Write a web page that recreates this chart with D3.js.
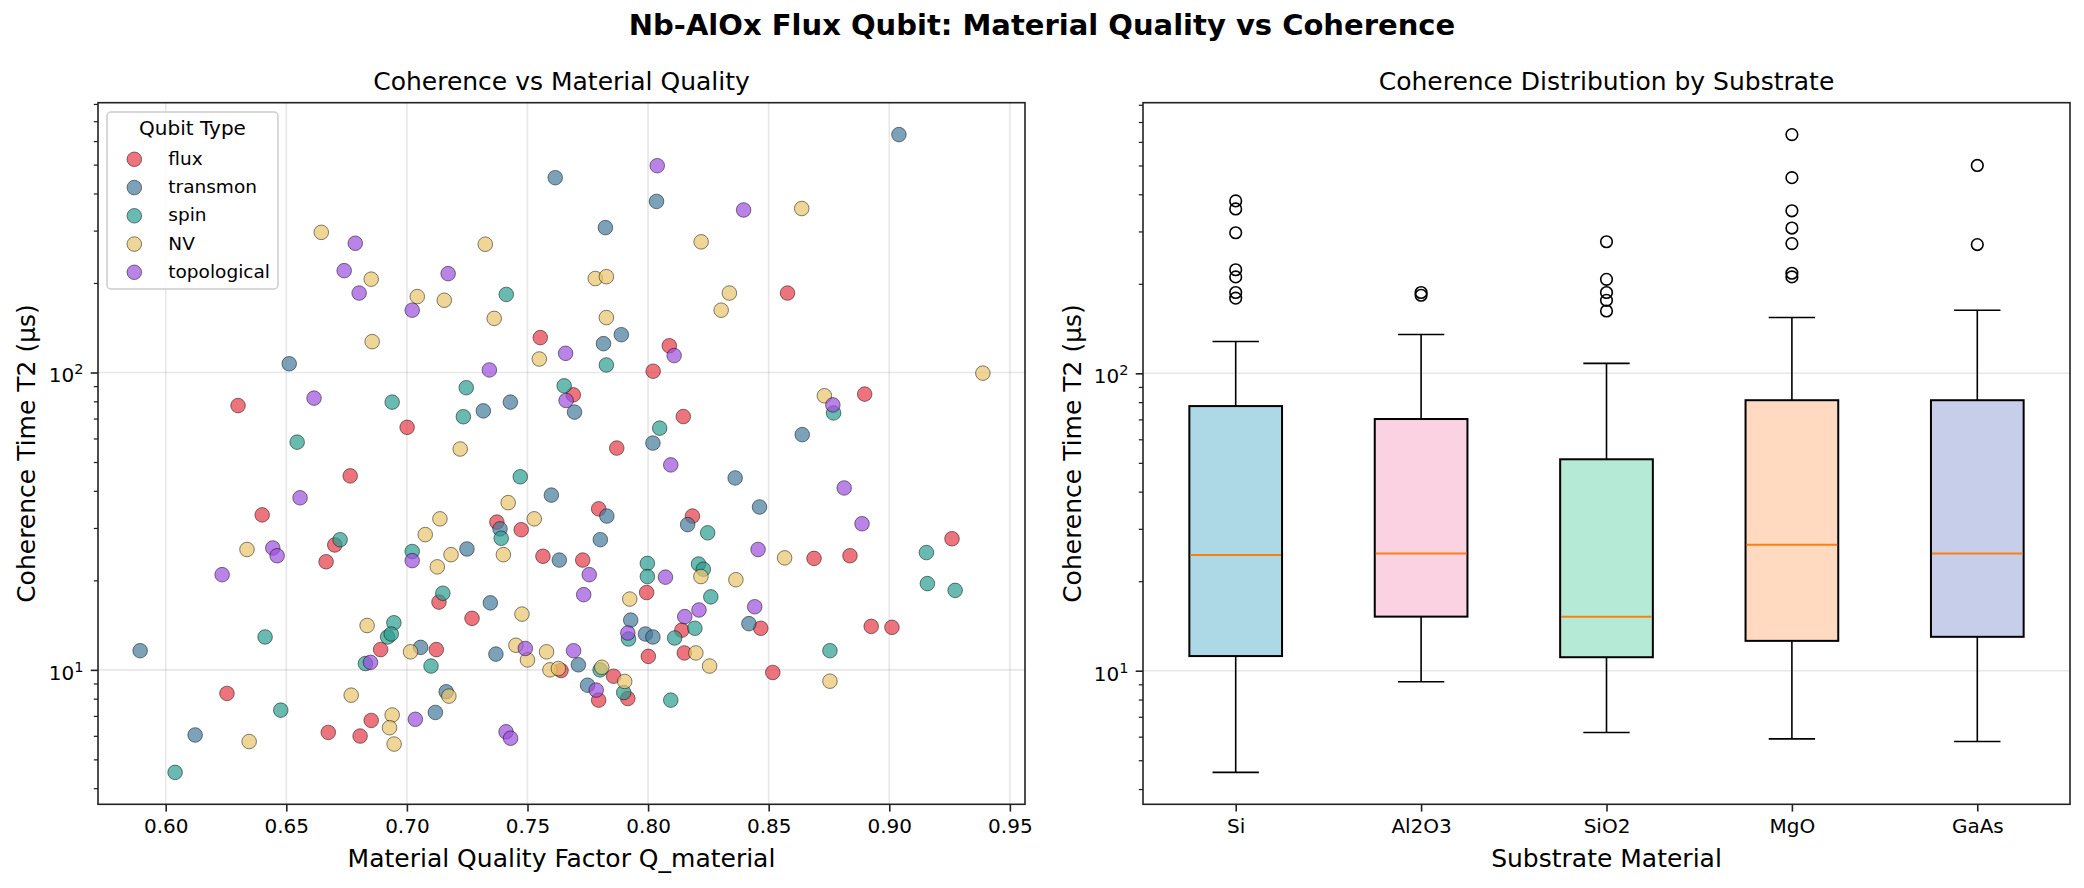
<!DOCTYPE html>
<html>
<head>
<meta charset="utf-8">
<script src="https://cdn.jsdelivr.net/npm/d3@7"></script>
<style>
  body { margin: 0; background: #fff; }
  svg { display: block; }
</style>
</head>
<body>
<div id="chart"></div>
<script>
// Scatter data, one list per qubit type: [Q_material, T2 in µs]
const fluxPoints = [
  [0.630, 77.4], [0.6765, 44.9], [0.640, 33.2], [0.7373, 31.4], [0.7474, 29.6], [0.6701, 26.3],
  [0.7564, 24.1], [0.6665, 23.1], [0.7133, 16.9], [0.727, 14.9], [0.6891, 11.7], [0.7122, 11.7],
  [0.6254, 8.33], [0.6852, 6.76], [0.6674, 6.16], [0.6806, 5.99], [0.7001, 65.4], [0.7553, 131],
  [0.787, 55.7], [0.7795, 34.8], [0.8184, 32.9], [0.926, 27.6], [0.7729, 23.4], [0.8688, 23.7],
  [0.8837, 24.2], [0.7994, 18.2], [0.8467, 13.8], [0.8925, 14.0], [0.9011, 13.9], [0.814, 13.6],
  [0.815, 11.4], [0.8001, 11.1], [0.8517, 9.8], [0.7639, 9.95], [0.7857, 9.52], [0.7795, 7.91],
  [0.7916, 8.01], [0.8578, 185], [0.8088, 123], [0.8021, 101], [0.8898, 84.6], [0.8146, 71.1],
  [0.769, 84.1]
];
const transmonPoints = [
  [0.7615, 452], [0.6512, 107], [0.7317, 74.3], [0.7429, 79.5], [0.7386, 29.8], [0.7249, 25.5],
  [0.7346, 16.8], [0.7057, 11.9], [0.7369, 11.3], [0.5894, 11.6], [0.6122, 6.04], [0.7163, 8.44],
  [0.7118, 7.19], [0.802, 57.9], [0.8639, 61.8], [0.7599, 38.7], [0.8361, 44.2], [0.8462, 35.3],
  [0.7829, 32.9], [0.8164, 30.8], [0.7802, 27.4], [0.7632, 23.4], [0.7928, 14.7], [0.8418, 14.3],
  [0.7989, 13.2], [0.802, 12.9], [0.7711, 10.4], [0.7749, 8.88], [0.904, 631], [0.8035, 376],
  [0.7823, 307], [0.7889, 134], [0.7815, 125], [0.7695, 73.6]
];
const spinPoints = [
  [0.6545, 58.3], [0.747, 44.6], [0.7412, 183], [0.6939, 79.5], [0.7246, 88.9], [0.7234, 71.0],
  [0.7391, 27.7], [0.6723, 27.4], [0.7022, 25.0], [0.7149, 18.1], [0.6946, 14.4], [0.6412, 12.9],
  [0.692, 12.9], [0.6935, 13.2], [0.6828, 10.5], [0.71, 10.3], [0.6477, 7.32], [0.6039, 4.52],
  [0.8048, 65.0], [0.8247, 28.9], [0.9154, 24.8], [0.7997, 22.8], [0.7997, 20.6], [0.8209, 22.7],
  [0.8229, 21.8], [0.9158, 19.5], [0.9273, 18.5], [0.826, 17.6], [0.8194, 13.8], [0.811, 12.8],
  [0.7919, 12.7], [0.8754, 11.6], [0.7801, 10.0], [0.7899, 8.39], [0.8094, 7.91], [0.8769, 73.1],
  [0.7827, 106], [0.7652, 90.2]
];
const nvPoints = [
  [0.6645, 296], [0.7325, 270], [0.6852, 206], [0.7043, 180], [0.7155, 175], [0.7362, 152],
  [0.7549, 111], [0.6856, 127], [0.7221, 55.3], [0.742, 36.5], [0.7137, 32.2], [0.7528, 32.2],
  [0.7076, 28.5], [0.6337, 25.4], [0.7183, 24.4], [0.74, 24.4], [0.7126, 22.2], [0.7477, 15.4],
  [0.6835, 14.1], [0.7015, 11.5], [0.7452, 12.1], [0.75, 10.8], [0.6346, 5.74], [0.6769, 8.22],
  [0.7174, 8.16], [0.6939, 7.05], [0.6928, 6.39], [0.6947, 5.63], [0.8566, 23.8], [0.8219, 20.6],
  [0.8364, 20.1], [0.7924, 17.3], [0.8198, 11.4], [0.8255, 10.3], [0.8754, 9.16], [0.7579, 11.5],
  [0.7593, 10.0], [0.7628, 10.1], [0.7808, 10.2], [0.7903, 9.14], [0.8637, 356], [0.822, 275],
  [0.7781, 207], [0.7827, 210], [0.7827, 153], [0.8337, 185], [0.8303, 162], [0.9388, 99.5],
  [0.8731, 83.5]
];
const topoPoints = [
  [0.6786, 272], [0.674, 220], [0.7171, 215], [0.6802, 185], [0.7022, 162], [0.7342, 102],
  [0.6615, 82.0], [0.6557, 37.9], [0.6444, 25.7], [0.6462, 24.2], [0.7022, 23.3], [0.6234, 20.9],
  [0.7491, 11.8], [0.6849, 10.6], [0.7035, 6.82], [0.7411, 6.19], [0.743, 5.89], [0.8094, 48.9],
  [0.8813, 40.9], [0.8456, 25.4], [0.7756, 20.9], [0.8072, 20.5], [0.7733, 17.9], [0.8442, 16.3],
  [0.8211, 15.9], [0.8152, 15.1], [0.7916, 13.3], [0.7691, 11.6], [0.7785, 8.55], [0.8038, 496],
  [0.8396, 352], [0.7658, 116], [0.8108, 114], [0.8766, 77.8], [0.766, 80.5], [0.8887, 31.0]
];
const qubitTypes = ["flux", "transmon", "spin", "NV", "topological"];
const typeColors = ["#e63946", "#457b9d", "#2a9d8f", "#e9c46a", "#9d4edd"];

// Box plot summary per substrate (µs)
const substrates = ["Si", "Al2O3", "SiO2", "MgO", "GaAs"];
const whiskerLow = [4.55, 9.18, 6.2, 5.9, 5.78];
const boxQ1 = [11.2, 15.2, 11.1, 12.6, 13.0];
const boxMedian = [24.5, 24.8, 15.2, 26.5, 24.8];
const boxQ3 = [77.6, 70.2, 51.4, 81.2, 81.2];
const whiskerHigh = [128, 135, 108, 154, 163];
const outliers = [
  [380, 357, 297, 223, 211, 187, 179],
  [187, 183],
  [277, 207, 187, 176, 162],
  [635, 455, 352, 308, 273, 217, 211],
  [500, 271]
];
const boxColors = ["#ADD8E6", "#FAD2E1", "#B5EAD7", "#FFDAC1", "#C7CEEA"];

// Layout
const width = 2084, height = 888;
const panelTop = 102.7, panelBottom = 804.3;
const scatterLeft = 98, scatterRight = 1025;
const boxLeft = 1143, boxRight = 2070;
const font = "'DejaVu Sans', sans-serif";

const svg = d3.select("#chart").append("svg")
  .attr("width", width)
  .attr("height", height)
  .style("font-family", font);

svg.append("rect").attr("width", width).attr("height", height).attr("fill", "#fff");

// matplotlib-like 5% padding (in log space for y)
function logPadded(vals) {
  const [lo, hi] = d3.extent(vals).map(Math.log10);
  const pad = (hi - lo) * 0.05;
  return [Math.pow(10, lo - pad), Math.pow(10, hi + pad)];
}

const allScatter = [fluxPoints, transmonPoints, spinPoints, nvPoints, topoPoints];
const flat = allScatter.flat();
const xExt = d3.extent(flat, d => d[0]);
const xPad = (xExt[1] - xExt[0]) * 0.05;

const x = d3.scaleLinear()
  .domain([xExt[0] - xPad, xExt[1] + xPad])
  .range([scatterLeft, scatterRight]);

const yLeft = d3.scaleLog()
  .domain(logPadded(flat.map(d => d[1])))
  .range([panelBottom, panelTop]);

const yRight = d3.scaleLog()
  .domain(logPadded(whiskerLow.concat(whiskerHigh, outliers.flat())))
  .range([panelBottom, panelTop]);

const xb = d3.scaleLinear()
  .domain([0.5, substrates.length + 0.5])
  .range([boxLeft, boxRight]);

const isMajor = v => Math.abs(Math.log10(v) - Math.round(Math.log10(v))) < 1e-6;

// Log y axis with 10^n labels and minor ticks
function drawLogAxis(y, xPos) {
  const all = y.ticks();
  const major = all.filter(isMajor);
  const minor = all.filter(v => !isMajor(v));

  const gMin = svg.append("g")
    .attr("transform", `translate(${xPos},0)`)
    .call(d3.axisLeft(y).tickValues(minor).tickSize(4.2).tickFormat(""));
  gMin.select(".domain").remove();
  gMin.selectAll(".tick line").attr("stroke", "#222").attr("stroke-width", 1.25);

  const gMaj = svg.append("g")
    .attr("transform", `translate(${xPos},0)`)
    .call(d3.axisLeft(y).tickValues(major).tickSize(7.3).tickPadding(7.3).tickFormat(""))
    .attr("font-family", font)
    .attr("font-size", 20);
  gMaj.select(".domain").remove();
  gMaj.selectAll(".tick line").attr("stroke", "#222").attr("stroke-width", 1.6);
  gMaj.selectAll(".tick text")
    .attr("fill", "#000")
    .attr("dy", "0.47em")
    .each(function(d) {
      const t = d3.select(this);
      t.append("tspan").text("10");
      t.append("tspan")
        .attr("dy", -8)
        .attr("font-size", 14.5)
        .text(Math.round(Math.log10(d)));
    });
  return major;
}

function drawBottomAxis(axis) {
  const g = svg.append("g")
    .attr("transform", `translate(0,${panelBottom})`)
    .call(axis.tickSize(7.3).tickPadding(7.3))
    .attr("font-family", font)
    .attr("font-size", 20);
  g.select(".domain").remove();
  g.selectAll(".tick line").attr("stroke", "#222").attr("stroke-width", 1.6);
  g.selectAll(".tick text").attr("fill", "#000");
}

// ---------------- Left panel: scatter ----------------
const xTicks = x.ticks(8);
const leftMajors = yLeft.ticks().filter(isMajor);

// grid
svg.append("g").selectAll("line").data(xTicks).join("line")
  .attr("x1", d => x(d)).attr("x2", d => x(d))
  .attr("y1", panelTop).attr("y2", panelBottom)
  .attr("stroke", "#b0b0b0").attr("stroke-opacity", 0.3).attr("stroke-width", 1.6);
svg.append("g").selectAll("line").data(leftMajors).join("line")
  .attr("x1", scatterLeft).attr("x2", scatterRight)
  .attr("y1", d => yLeft(d)).attr("y2", d => yLeft(d))
  .attr("stroke", "#b0b0b0").attr("stroke-opacity", 0.3).attr("stroke-width", 1.6);

// points
allScatter.forEach((pts, i) => {
  svg.append("g").selectAll("circle").data(pts).join("circle")
    .attr("cx", d => x(d[0]))
    .attr("cy", d => yLeft(d[1]))
    .attr("r", 7.3)
    .attr("fill", typeColors[i])
    .attr("fill-opacity", 0.7)
    .attr("stroke", "#000")
    .attr("stroke-opacity", 0.55)
    .attr("stroke-width", 0.9);
});

// frame
svg.append("rect")
  .attr("x", scatterLeft).attr("y", panelTop)
  .attr("width", scatterRight - scatterLeft).attr("height", panelBottom - panelTop)
  .attr("fill", "none").attr("stroke", "#222").attr("stroke-width", 1.6);

drawBottomAxis(d3.axisBottom(x).tickValues(xTicks).tickFormat(d3.format(".2f")));
drawLogAxis(yLeft, scatterLeft);

// legend
const legend = svg.append("g");
legend.append("rect")
  .attr("x", 107).attr("y", 112).attr("width", 171).attr("height", 177).attr("rx", 4)
  .attr("fill", "#fff").attr("fill-opacity", 0.8)
  .attr("stroke", "#cccccc").attr("stroke-width", 1.5);
legend.append("text")
  .attr("x", 192.5).attr("y", 135)
  .attr("text-anchor", "middle").attr("font-size", 20)
  .text("Qubit Type");
qubitTypes.forEach((name, i) => {
  const cy = 159.3 + i * 28.25;
  legend.append("circle")
    .attr("cx", 134.3).attr("cy", cy).attr("r", 7.3)
    .attr("fill", typeColors[i]).attr("fill-opacity", 0.7)
    .attr("stroke", "#000").attr("stroke-opacity", 0.55).attr("stroke-width", 0.9);
  legend.append("text")
    .attr("x", 168.3).attr("y", cy + 5.5)
    .attr("font-size", 18.5)
    .text(name);
});

// titles / labels
svg.append("text")
  .attr("x", (scatterLeft + scatterRight) / 2).attr("y", 89.5)
  .attr("text-anchor", "middle").attr("font-size", 25)
  .text("Coherence vs Material Quality");
svg.append("text")
  .attr("x", (scatterLeft + scatterRight) / 2).attr("y", 867)
  .attr("text-anchor", "middle").attr("font-size", 25)
  .text("Material Quality Factor Q_material");
svg.append("text")
  .attr("transform", `translate(35,${(panelTop + panelBottom) / 2}) rotate(-90)`)
  .attr("text-anchor", "middle").attr("font-size", 25)
  .text("Coherence Time T2 (μs)");

// ---------------- Right panel: box plot ----------------
const rightMajors = yRight.ticks().filter(isMajor);
svg.append("g").selectAll("line").data(rightMajors).join("line")
  .attr("x1", boxLeft).attr("x2", boxRight)
  .attr("y1", d => yRight(d)).attr("y2", d => yRight(d))
  .attr("stroke", "#b0b0b0").attr("stroke-opacity", 0.3).attr("stroke-width", 1.6);

const boxW = xb(1.25) - xb(1);   // half box width (0.5 units total)
const capW = xb(1.125) - xb(1);  // half cap width

substrates.forEach((name, i) => {
  const cx = xb(i + 1);
  const g = svg.append("g");
  // whiskers
  g.append("line")
    .attr("x1", cx).attr("x2", cx)
    .attr("y1", yRight(boxQ1[i])).attr("y2", yRight(whiskerLow[i]))
    .attr("stroke", "#000").attr("stroke-width", 1.6);
  g.append("line")
    .attr("x1", cx).attr("x2", cx)
    .attr("y1", yRight(boxQ3[i])).attr("y2", yRight(whiskerHigh[i]))
    .attr("stroke", "#000").attr("stroke-width", 1.6);
  // caps
  [whiskerLow[i], whiskerHigh[i]].forEach(v => {
    g.append("line")
      .attr("x1", cx - capW).attr("x2", cx + capW)
      .attr("y1", yRight(v)).attr("y2", yRight(v))
      .attr("stroke", "#000").attr("stroke-width", 1.6);
  });
  // box
  g.append("rect")
    .attr("x", cx - boxW).attr("width", boxW * 2)
    .attr("y", yRight(boxQ3[i]))
    .attr("height", yRight(boxQ1[i]) - yRight(boxQ3[i]))
    .attr("fill", boxColors[i])
    .attr("stroke", "#000").attr("stroke-width", 2);
  // median
  g.append("line")
    .attr("x1", cx - boxW + 1).attr("x2", cx + boxW - 1)
    .attr("y1", yRight(boxMedian[i])).attr("y2", yRight(boxMedian[i]))
    .attr("stroke", "#ff7f0e").attr("stroke-width", 2);
  // fliers
  g.selectAll("circle.flier").data(outliers[i]).join("circle")
    .attr("class", "flier")
    .attr("cx", cx).attr("cy", d => yRight(d)).attr("r", 5.8)
    .attr("fill", "none").attr("stroke", "#000").attr("stroke-width", 1.6);
});

svg.append("rect")
  .attr("x", boxLeft).attr("y", panelTop)
  .attr("width", boxRight - boxLeft).attr("height", panelBottom - panelTop)
  .attr("fill", "none").attr("stroke", "#222").attr("stroke-width", 1.6);

drawBottomAxis(d3.axisBottom(xb).tickValues(d3.range(1, substrates.length + 1)).tickFormat(d => substrates[d - 1]));
drawLogAxis(yRight, boxLeft);

svg.append("text")
  .attr("x", (boxLeft + boxRight) / 2).attr("y", 89.5)
  .attr("text-anchor", "middle").attr("font-size", 25)
  .text("Coherence Distribution by Substrate");
svg.append("text")
  .attr("x", (boxLeft + boxRight) / 2).attr("y", 867)
  .attr("text-anchor", "middle").attr("font-size", 25)
  .text("Substrate Material");
svg.append("text")
  .attr("transform", `translate(1081,${(panelTop + panelBottom) / 2}) rotate(-90)`)
  .attr("text-anchor", "middle").attr("font-size", 25)
  .text("Coherence Time T2 (μs)");

// figure title
svg.append("text")
  .attr("x", width / 2).attr("y", 35)
  .attr("text-anchor", "middle").attr("font-size", 29).attr("font-weight", "bold")
  .text("Nb-AlOx Flux Qubit: Material Quality vs Coherence");
</script>
</body>
</html>
